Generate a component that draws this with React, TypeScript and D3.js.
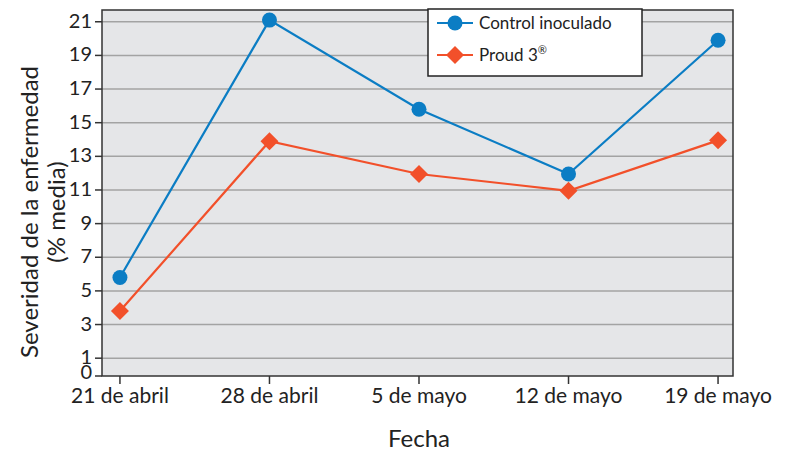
import * as d3 from 'd3';
import React from 'react';

// fechas y valores
const fechas = ['21 de abril', '28 de abril', '5 de mayo', '12 de mayo', '19 de mayo'];
const controlInoculado = [5.8, 21.1, 15.8, 11.95, 19.9];
const proud3 = [3.8, 13.9, 11.95, 10.95, 13.95];
const yTicks = [0, 1, 3, 5, 7, 9, 11, 13, 15, 17, 19, 21];
const gridValues = [1, 3, 5, 7, 9, 11, 13, 15, 17, 19, 21];

const params = {
  width: 791,
  height: 451,
  left: 102,
  right: 733,
  top: 10,
  bottom: 376,
};

const BLUE = '#0b7dc4';
const RED = '#f2502a';
const FONT = 'Lato, "Open Sans", sans-serif';

const App = () => {
  const x = d3.scaleLinear().domain([-0.12, 4.1]).range([params.left, params.right]);
  const y = d3.scaleLinear().domain([0, 21.7]).range([params.bottom - 1, params.top]);
  const line = d3.line<number>().x((d, i) => x(i)).y(d => y(d));

  const diamond = (cx: number, cy: number, r: number) =>
    `M${cx},${cy - r}L${cx + r},${cy}L${cx},${cy + r}L${cx - r},${cy}Z`;

  return (
    <svg width={params.width} height={params.height}
      style={{ position: 'absolute', left: 0, top: 0, fontFamily: FONT }}>
      <rect x={params.left} y={params.top} width={params.right - params.left}
        height={params.bottom - params.top} fill="#e5e6e8" />
      {gridValues.map(v => (
        <line key={v} x1={params.left} x2={params.right} y1={y(v)} y2={y(v)}
          stroke="#a3a3a3" strokeWidth={1.5} />
      ))}
      <rect x={params.left} y={params.top} width={params.right - params.left}
        height={params.bottom - params.top} fill="none" stroke="#333" strokeWidth={1.5} />

      {/* eje y */}
      {yTicks.map(v => (
        <g key={v} transform={`translate(${params.left},${v === 0 ? params.bottom : y(v)})`}>
          <line x1={-7} x2={0} stroke="#333" strokeWidth={1.5} />
          <text x={-10} y={v === 0 ? 3 : 6} textAnchor="end" fontSize={20} fill="#222">{v}</text>
        </g>
      ))}
      {/* eje x */}
      {fechas.map((f, i) => (
        <g key={f} transform={`translate(${x(i)},${params.bottom})`}>
          <line y1={0} y2={8} stroke="#333" strokeWidth={1.5} />
          <text y={27} textAnchor="middle" fontSize={21} fill="#222">{f}</text>
        </g>
      ))}

      <g transform="translate(38,212) rotate(-90)">
        <text textAnchor="middle" fontSize={24} fill="#222">Severidad de la enfermedad</text>
        <text y={27} textAnchor="middle" fontSize={24} fill="#222">(% media)</text>
      </g>
      <text x={419} y={447} textAnchor="middle" fontSize={24} fill="#222">Fecha</text>

      {/* series */}
      <path d={line(controlInoculado) || ''} fill="none" stroke={BLUE} strokeWidth={2.2} />
      <path d={line(proud3) || ''} fill="none" stroke={RED} strokeWidth={2.2} />
      {controlInoculado.map((v, i) => (
        <circle key={i} cx={x(i)} cy={y(v)} r={7.5} fill={BLUE} />
      ))}
      {proud3.map((v, i) => (
        <path key={i} d={diamond(x(i), y(v), 9)} fill={RED} />
      ))}

      {/* leyenda */}
      <g transform="translate(428,9)">
        <rect width={214} height={67} fill="#fff" stroke="#222" strokeWidth={1.5} />
        <line x1={9} x2={45} y1={14} y2={14} stroke={BLUE} strokeWidth={2.2} />
        <circle cx={27} cy={14} r={7.5} fill={BLUE} />
        <text x={51} y={20} fontSize={17} fill="#222">Control inoculado</text>
        <line x1={9} x2={45} y1={46} y2={46} stroke={RED} strokeWidth={2.2} />
        <path d={diamond(27, 46, 9)} fill={RED} />
        <text x={51} y={52} fontSize={17} fill="#222">Proud 3<tspan fontSize={11} dy={-7}>®</tspan></text>
      </g>
    </svg>
  );
};

export default App;
